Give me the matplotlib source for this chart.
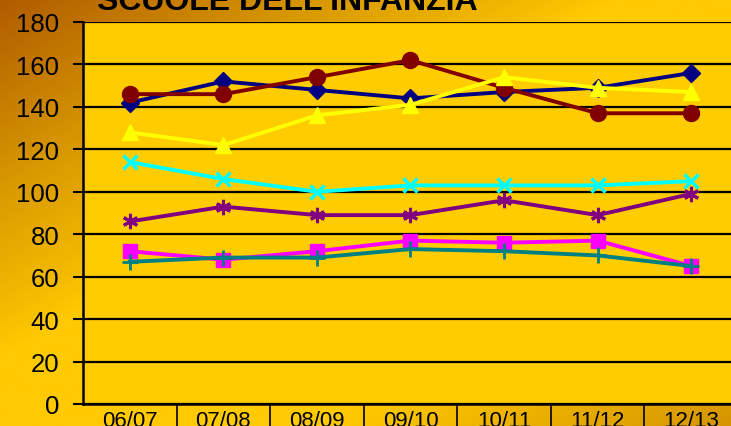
import numpy as np
import matplotlib.pyplot as plt
from matplotlib.colors import LinearSegmentedColormap

plt.rcParams['font.family'] = ['Liberation Sans', 'DejaVu Sans']

# ---------------- data ----------------
years = ["06/07", "07/08", "08/09", "09/10", "10/11", "11/12", "12/13"]
s_navy = [142, 152, 148, 144, 147, 149, 156]
s_darkred = [146, 146, 154, 162, 149, 137, 137]
s_yellow = [128, 122, 136, 141, 154, 149, 147]
s_cyan = [114, 106, 100, 103, 103, 103, 105]
s_purple = [86, 93, 89, 89, 96, 89, 99]
s_magenta = [72, 68, 72, 77, 76, 77, 65]
s_teal = [67, 69, 69, 73, 72, 70, 65]
y_ticks = list(range(0, 181, 20))

W, H = 731, 427
fig = plt.figure(figsize=(W / 100, H / 100), dpi=100)

# background gradient: brown top-left, yellow across the middle, darker bottom-right
bg = fig.add_axes([0, 0, 1, 1], zorder=-10)
xx, yy = np.meshgrid(np.linspace(0, 1, 300), np.linspace(0, 1, 200))
u = (xx + yy) / 2
dark_tl = np.clip((0.42 - u) / 0.42, 0, 1) ** 0.9
dark_br = np.clip((u - 0.72) / 0.28, 0, 1) * 0.55
t = np.maximum(dark_tl, dark_br)
cmap = LinearSegmentedColormap.from_list("bg", ["#FFCA00", "#D99A00", "#B05C00"])
bg.imshow(t, cmap=cmap, vmin=0, vmax=1, aspect="auto",
          extent=[0, 1, 0, 1], origin="upper")
bg.axis("off")

# plot area
left, top, bottom = 83 / W, 23 / H, 405 / H
ax = fig.add_axes([left, 1 - bottom, 655 / W, (bottom - top)])
ax.set_facecolor("#FFCC00")

x = np.arange(len(years))
lw = 2.8
ax.plot(x, s_navy, color="#000080", lw=lw, marker="D", ms=9.5, zorder=5)
ax.plot(x, s_darkred, color="#800000", lw=lw, marker="o", ms=11.5, zorder=5)
ax.plot(x, s_yellow, color="#FFFF00", lw=lw, marker="^", ms=11.5, zorder=5)
ax.plot(x, s_cyan, color="#00FFFF", lw=lw, marker="x", ms=10, mew=2.5, zorder=5)
ax.plot(x, s_purple, color="#800080", lw=lw, marker=(6, 2, 0), ms=11, mew=2.2, zorder=5)
ax.plot(x, s_magenta, color="#FF00FF", lw=lw, marker="s", ms=10, zorder=5)
ax.plot(x, s_teal, color="#008080", lw=lw, marker="+", ms=11, mew=2, zorder=5)

ax.set_xlim(-0.5, len(years) - 0.5)
ax.set_ylim(0, 180)
ax.set_yticks(y_ticks)
ax.set_yticklabels([str(v) for v in y_ticks], fontsize=18.5)
ax.yaxis.grid(True, color="black", lw=1.6)
ax.set_axisbelow(True)
ax.tick_params(axis="y", length=7, width=1.5, pad=10)
for s in ["right", "top"]:
    ax.spines[s].set_visible(False)
ax.spines["left"].set_linewidth(1.8)
ax.spines["bottom"].set_linewidth(1.8)

# category "table" under the axis
ax.set_xticks(x)
ax.set_xticklabels(years, fontsize=16)
ax.tick_params(axis="x", length=0, pad=4)
trans = ax.get_xaxis_transform()
for b in np.arange(0.5, len(years) - 0.5, 1.0):
    ax.plot([b, b], [0, -0.08], color="black", lw=1.2, transform=trans, clip_on=False)

fig.text(97 / W, 1 - 10 / H, "SCUOLE DELL'INFANZIA", fontsize=23, fontweight="bold",
         ha="left", va="baseline")

fig.savefig("out.png", dpi=100)
